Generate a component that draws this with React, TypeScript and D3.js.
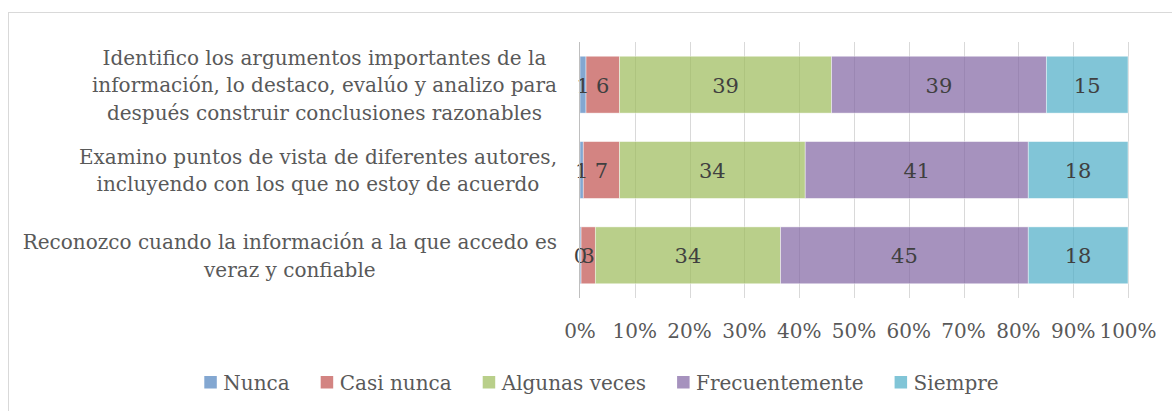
import * as d3 from 'd3'
import React from 'react'

const categories = [
  ['Identifico los argumentos importantes de la', 'información, lo destaco, evalúo y analizo para', 'después construir conclusiones razonables'],
  ['Examino puntos de vista de diferentes autores,', 'incluyendo con los que no estoy de acuerdo'],
  ['Reconozco cuando la información a la que accedo es', 'veraz y confiable'],
]
const seriesNames = ['Nunca', 'Casi nunca', 'Algunas veces', 'Frecuentemente', 'Siempre']
// percentages; labels show them rounded
const nunca = [1.1, 0.6, 0.2]
const casiNunca = [6.1, 6.6, 2.6]
const algunasVeces = [38.7, 33.9, 33.8]
const frecuentemente = [39.2, 40.7, 45.2]
const siempre = [14.9, 18.2, 18.2]
const tickValues = [0, 0.1, 0.2, 0.3, 0.4, 0.5, 0.6, 0.7, 0.8, 0.9, 1]

const colors = ['#4F81BD', '#C0504D', '#9BBB59', '#8064A2', '#4BACC6']
const W = 1172, H = 411
const FONT = '"DejaVu Serif", serif'
const FS = 20

export default function App() {
  const ref = React.useRef<SVGSVGElement>(null)

  React.useEffect(() => {
    const svg = d3.select(ref.current!)
    svg.selectAll('*').remove()

    const series = [nunca, casiNunca, algunasVeces, frecuentemente, siempre]
    const rows = categories.map((_, i) => {
      const vals = series.map(s => s[i])
      const total = d3.sum(vals)
      let acc = 0
      return vals.map((v, k) => {
        const x0 = acc / total
        acc += v
        return { k, v, x0, x1: acc / total }
      })
    })

    const x = d3.scaleLinear().domain([0, 1]).range([580, 1128])
    const y = d3.scaleBand<number>().domain(d3.range(categories.length)).range([42, 298])
      .paddingInner(1 / 3).paddingOuter(1 / 6)

    // chart frame
    svg.append('rect').attr('x', 8.5).attr('y', 12.5).attr('width', W + 20).attr('height', H + 20)
      .attr('fill', '#fff').attr('stroke', '#d9d9d9')

    // gridlines
    svg.append('g').selectAll('line').data(tickValues.slice(1)).join('line')
      .attr('x1', d => Math.round(x(d)) + 0.5).attr('x2', d => Math.round(x(d)) + 0.5)
      .attr('y1', 42).attr('y2', 298).attr('stroke', '#d9d9d9')

    // bars
    const g = svg.append('g')
    rows.forEach((segs, i) => {
      g.selectAll(null).data(segs).join('rect')
        .attr('x', d => x(d.x0)).attr('width', d => x(d.x1) - x(d.x0))
        .attr('y', y(i)!).attr('height', y.bandwidth())
        .attr('fill', d => colors[d.k]).attr('fill-opacity', 0.7)
        .attr('stroke', '#fff').attr('stroke-opacity', 0.6).attr('stroke-width', 0.75)
      g.selectAll(null).data(segs).join('text')
        .attr('x', d => (x(d.x0) + x(d.x1)) / 2).attr('y', y(i)! + y.bandwidth() / 2 + 8)
        .attr('text-anchor', 'middle').attr('font-family', FONT).attr('font-size', 21)
        .attr('fill', '#404040').text(d => d3.format('.0f')(d.v))
    })

    // axis line at 0
    svg.append('line').attr('x1', 579.5).attr('x2', 579.5).attr('y1', 42).attr('y2', 298)
      .attr('stroke', '#bfbfbf')

    // tick labels
    svg.append('g').selectAll('text').data(tickValues).join('text')
      .attr('x', d => x(d)).attr('y', 338).attr('text-anchor', 'middle')
      .attr('font-family', FONT).attr('font-size', FS).attr('fill', '#595959')
      .text(d => d3.format('.0%')(d))

    // category labels: block right edge at 557, lines centred in block
    const lineH = 27.5
    categories.forEach((lines, i) => {
      const cg = svg.append('g')
      const texts = lines.map((ln, j) => cg.append('text')
        .attr('font-family', FONT).attr('font-size', FS).attr('fill', '#595959')
        .attr('text-anchor', 'middle')
        .attr('y', y(i)! + y.bandwidth() / 2 + 7.5 + (j - (lines.length - 1) / 2) * lineH)
        .text(ln))
      const wMax = d3.max(texts, t => (t.node() as SVGTextElement).getComputedTextLength())!
      texts.forEach(t => t.attr('x', 557 - wMax / 2))
    })

    // legend
    const lg = svg.append('g')
    let cx = 0
    seriesNames.forEach((name, k) => {
      lg.append('rect').attr('x', cx).attr('y', 376).attr('width', 12.5).attr('height', 12.5)
        .attr('fill', colors[k]).attr('fill-opacity', 0.7)
      const t = lg.append('text').attr('x', cx + 19).attr('y', 390)
        .attr('font-family', FONT).attr('font-size', FS).attr('fill', '#595959').text(name)
      cx += 19 + (t.node() as SVGTextElement).getComputedTextLength() + 31
    })
    const legendW = cx - 31
    lg.attr('transform', `translate(${601.5 - legendW / 2},0)`)
  }, [])

  return (
    <div style={{ position: 'absolute', left: 0, top: 0 }}>
      <svg ref={ref} width={W} height={H} style={{ display: 'block' }} />
    </div>
  )
}
